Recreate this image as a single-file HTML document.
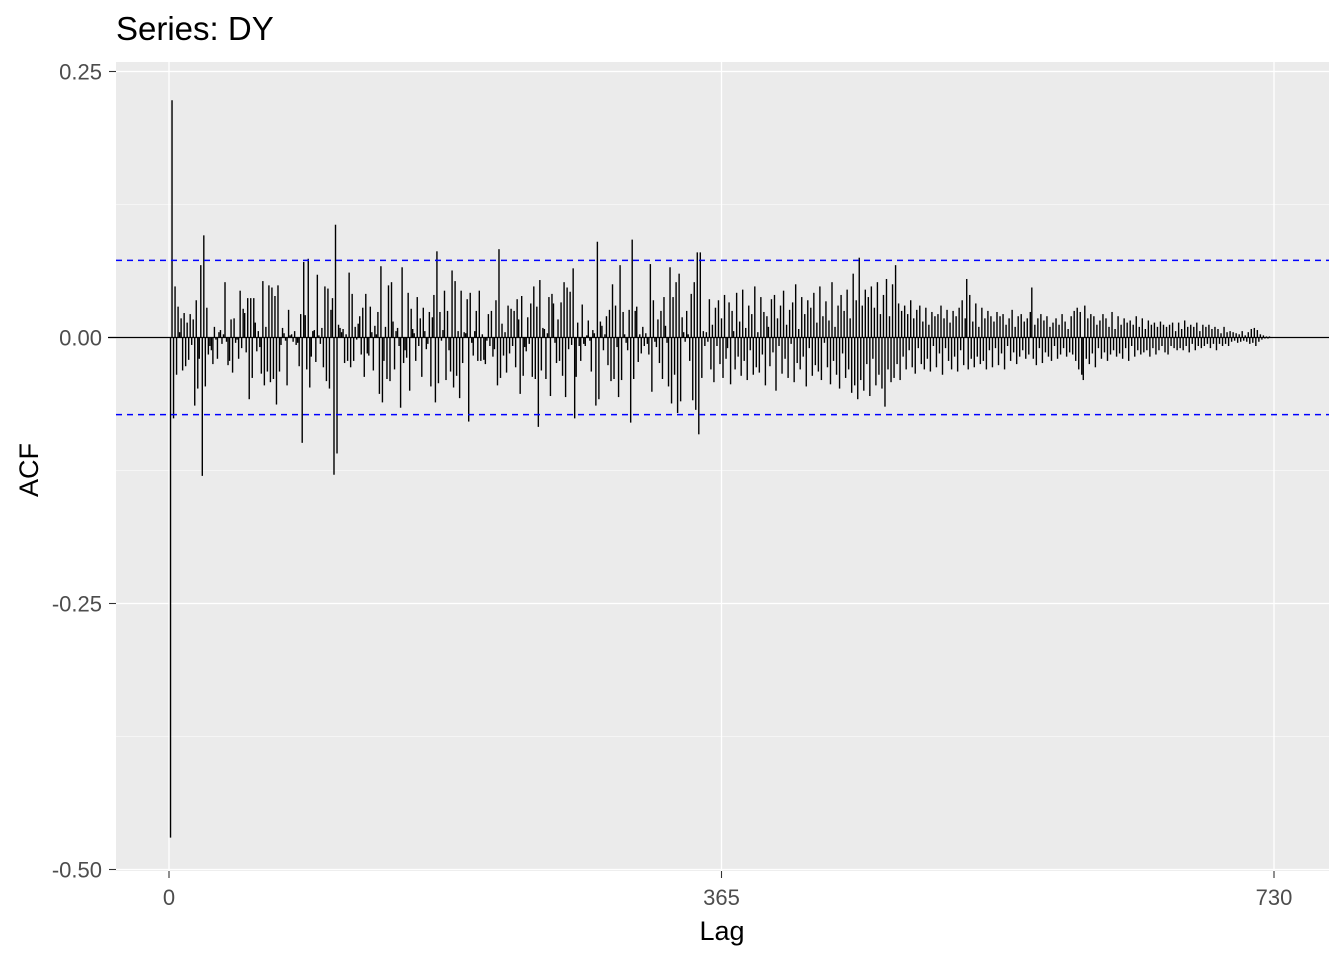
<!DOCTYPE html>
<html><head><meta charset="utf-8">
<style>
html,body{margin:0;padding:0;background:#fff;}
svg{display:block;font-family:"Liberation Sans",Arial,sans-serif;}
</style></head>
<body>
<svg id="chart" width="1344" height="960" viewBox="0 0 1344 960">
  <text x="116" y="40" font-size="33" fill="#000">Series: DY</text>
  <rect x="116" y="62" width="1213" height="809" fill="#ebebeb"/>
  <g id="grid"></g>
  <g id="axes"></g>
  <g id="marks"></g>
  <text x="722" y="940" font-size="27" text-anchor="middle" fill="#000">Lag</text>
  <text x="0" y="0" font-size="27" text-anchor="middle" fill="#000" transform="translate(38,470) rotate(-90)">ACF</text>
</svg>
<script>
// ACF values in thousandths, lag 1 onward
const acfMilliA = [-470,223,-76,48,-35,29,5,18,-31,23,-27,14,-21,22,-7,17,-64,35,-48,-20,68,-130,96,-46,28,-16,-8,-12,-25,10,-2,-20,5,7,-6,3,52,-4,-26,-22,17,-33,18,-5,-2,-20,44,-10,27,23,-14,37,-58,37,-38,37,14,-13,6,-9,-34,53,-45,10,-32,49,-42,47,-39,39,-63,49,-32,-7,9,4,-3,-45,26,2,3,-4,6,-7,-5,-27,22,-99,71];
const acfMilliB = [21,-30,74,-47,-18,6,7,-23,59,2,-6,9,-28,48,-41,46,-48,26,37,-129,106,-109,12,9,5,8,-24,3,-22,61,-28,41,-22,10,-2,13,20,-16,28,-37,41,-15,-17,29,5,-31,11,3,24,-53,67,-61,-22,10,-39,49,-41,52,15,-30,6,9,-8,-66,66,-24,-12,-19,42,-50,27,8,4,-22,38,-8,18,-37,28,6,-11,-6,24,-46,19,40,-61,81,-43,24];
const acfMilliC = [-3,7,44,-40,25,-12,-32,63,-47,53,-36,6,-57,44,-24,5,4,36,-79,42,-5,-17,6,25,-22,44,-22,3,-21,-25,-3,22,-8,25,-18,-11,35,-45,83,-38,13,-17,5,-33,30,-15,27,-8,25,-28,36,17,-53,39,-36,-9,-13,19,-6,32,-37,48,-39,29,-84,54,-31,9,8,-39,4,38,-55,41,32,-5,-24,17,-22,33,-36,52,-56,47,-11,43,-7,65,-76];
const acfMilliD = [-37,14,-8,-22,31,-6,-8,2,16,-3,-32,7,4,-64,90,-58,15,11,-12,3,20,-26,26,-41,50,-39,30,-9,-56,68,-40,24,3,-5,-12,26,-80,92,-39,25,29,-23,3,-15,10,-8,4,-6,-16,69,-51,35,-4,-9,17,-24,25,-39,38,11,-5,-46,66,-62,38,-35,52,-71,60,-60,19,5,-4,25,3,-22,41,-59,52,-68,80,-91,80,-38,6,-8,5,-4];
const acfMilliE = [36,-30,12,-42,28,-8,35,-25,18,-38,40,-20,-10,33,-44,25,6,-30,42,-18,15,-36,45,-22,9,-40,30,-12,22,-35,48,-28,5,-33,38,-16,24,-45,20,10,-27,36,-14,40,-50,18,-8,30,-34,44,-20,12,-38,26,-6,33,-42,50,-24,8,-30,38,-18,22,-46,35,-10,28,-36,42,-26,14,-32,48,-40,20,-5,34,-28,16,-44,52,-22,10,-35,30,-48,40,-15,25,-38,45,-30,18,-52,60,-45,35,-58,75,-40,30,-50,45,-25,38,-55,48,-20,28,-45,52,-35,22,-48,40,-65,55,-30,20,-42,50,-38,68,-25,32,-40,25,-18,30];
const acfMilliF = [-30,22,-12,35,-28,18,-34,26,-10,30,-25,15,-30,28,-20,12,-32,24,-8,20,-28,22,-15,30,-35,18,-10,26,-22,14,-30,25,-18,20,-32,28,-12,35,-26,18,55,-30,40,-20,15,-28,32,-18,10,-25,28,-22,18,-30,25,-12,20,-28,15,-10,24,-26,20,-15,22,-30,12,-8,18,-22,26,-14,10,-25,20,-18,22,-12,15,-20,18,-16,24,47,-20,12,-26,18,-10,22,-24,16,-14,20,-18,10,-22,14,-8,18,-20,12,-16,22,-10,15,-18,8,-14,20,-16,25,-22,28,-30,24,-35,-40,30,-20];
const acfMilliG = [18,-25,22,-15,20,-28,12,-10,16,-20,22,-14,18,-22,10,-16,24,-12,8,-18,20,-15,12,-20,18,-10,14,-22,16,-8,12,-18,20,-12,10,-16,18,-14,8,-12,16,-18,12,-10,14,-16,10,-12,15,-8,12,-14,10,-16,12,-8,14,-10,6,-12,14,-10,8,-12,16,-8,10,-14,12,-6,10,-12,14,-8,6,-10,12,-8,10,-6,12,-10,8,-6,10,-12,8,-6,4,-8,10,-6,5,-8,6,-4,5,-3,4,-5,3,-4,6,-3,2,-4,5,-6,8,-5,9,-8,7,-4,3,-2,2,-1,1,-1,1,0];
const acfValues = [].concat(acfMilliA,acfMilliB,acfMilliC,acfMilliD,acfMilliE,acfMilliF,acfMilliG).map(v => v/1000);
const confLimit = 0.0725;
const yTicks = [0.25, 0, -0.25, -0.5];
const yTickLabels = ["0.25","0.00","-0.25","-0.50"];
const xTicks = [0, 365, 730];
const xTickLabels = ["0","365","730"];

const NS = "http://www.w3.org/2000/svg";
const P = {l:116, r:1329, t:62, b:871};
const xs = lag => 169 + lag * (1274 - 169) / 730;
const ys = v => 337.5 - v * 1064;
function mk(tag, attrs, parent){ const e=document.createElementNS(NS,tag); for(const k in attrs) e.setAttribute(k,attrs[k]); parent.appendChild(e); return e; }

const grid = document.getElementById('grid');
const axes = document.getElementById('axes');
const marks = document.getElementById('marks');

for (let i=0;i<yTicks.length-1;i++){
  const m=(yTicks[i]+yTicks[i+1])/2;
  const gl = mk('line',{x1:P.l,x2:P.r,y1:ys(m),y2:ys(m),stroke:'#fff','stroke-width':0.6},grid);
  
  
}
yTicks.forEach((t,i)=>{
  const gl = mk('line',{x1:P.l,x2:P.r,y1:ys(t),y2:ys(t),stroke:'#fff','stroke-width':1.3},grid);
  
  
  const tk = mk('line',{x1:109,x2:116,y1:ys(t),y2:ys(t),stroke:'#333','stroke-width':1.1},axes);
  
  
  const tx = mk('text',{x:102,y:ys(t)+8,'font-size':22,'text-anchor':'end',fill:'#4d4d4d'},axes);
  tx.textContent = yTickLabels[i];
  
  
});
xTicks.forEach((t,i)=>{
  const gl = mk('line',{x1:xs(t),x2:xs(t),y1:P.t,y2:P.b,stroke:'#fff','stroke-width':1.3},grid);
  
  
  const tk = mk('line',{x1:xs(t),x2:xs(t),y1:871,y2:878,stroke:'#333','stroke-width':1.1},axes);
  
  
  const tx = mk('text',{x:xs(t),y:905,'font-size':22,'text-anchor':'middle',fill:'#4d4d4d'},axes);
  tx.textContent = xTickLabels[i];
  
  
});

const z = mk('line',{x1:108,x2:P.r,y1:ys(0),y2:ys(0),stroke:'#000','stroke-width':1.3},marks);



acfValues.forEach((v,i)=>{
  const lag = i+1;
  const b = mk('line',{x1:xs(lag),x2:xs(lag),y1:ys(0),y2:ys(v),stroke:'#000','stroke-width':1.4},marks);
  
  
});

[confLimit,-confLimit].forEach((c,i)=>{
  const d = mk('line',{x1:P.l,x2:P.r,y1:ys(c),y2:ys(c),stroke:'#0000ff','stroke-width':1.5,'stroke-dasharray':'6,5'},marks);
  
  
});
</script>
</body></html>
